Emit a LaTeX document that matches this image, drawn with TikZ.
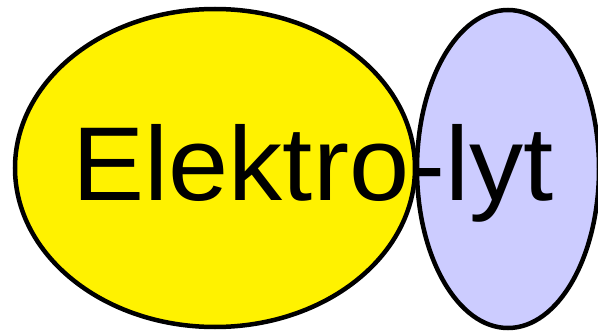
\documentclass[tikz,border=0pt]{standalone}
\usepackage{fontspec}
\setmainfont{Liberation Sans}
\definecolor{lav}{RGB}{204,204,255}
\begin{document}
\begin{tikzpicture}[x=1pt,y=1pt,
  blob/.style={draw=black,line width=4.5pt}]
\useasboundingbox (0,0) rectangle (598,-332);
\draw[blob,fill=yellow] (215,-168) ellipse [x radius=200,y radius=159];
\draw[blob,fill=lav] (508,-169) ellipse [x radius=91,y radius=159];
\node[anchor=base,inner sep=0pt,xscale=1.03] (t) at (313,-200)
  {\fontsize{105}{110}\selectfont Elektro-lyt};
\end{tikzpicture}
\end{document}
